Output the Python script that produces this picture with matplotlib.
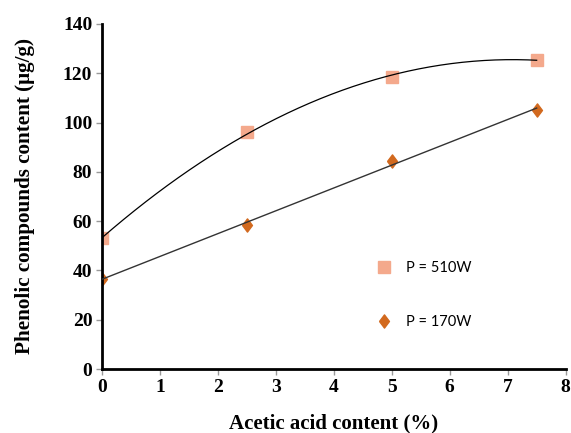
import numpy as np
import matplotlib.pyplot as plt

# Acetic acid content (%)
acid = [0, 2.5, 5, 7.5]
# Phenolic compounds content (ug/g)
p510 = [53, 96, 118.5, 125.5]
p170 = [36.5, 58.5, 84.5, 105]

sq_color = '#F4A98C'
dia_color = '#D2691E'

fig = plt.figure(figsize=(5.71, 4.33), dpi=100)
ax = fig.add_axes([0.1786, 0.1478, 0.812, 0.797])

# Ajustes: polinomio de grado 2 para 510W, lineal para 170W
xf = np.linspace(0, 7.5, 200)
c2 = np.polyfit(acid, p510, 2)
c1 = np.polyfit(acid, p170, 1)

# rombo algo mas alto que ancho
rombo = [(-0.75, 0), (0, 1), (0.75, 0), (0, -1), (-0.75, 0)]

ax.plot(acid, p510, 's', color=sq_color, markersize=8, zorder=2,
        label='P = 510W')
ax.plot(acid, p170, marker=rombo, ls='none', color=dia_color, markersize=9.5,
        zorder=2, label='P = 170W')
ax.plot(xf, np.polyval(c2, xf), color='black', lw=0.9, zorder=3)
ax.plot(xf, np.polyval(c1, xf), color='#333333', lw=1.0, zorder=3)

ax.set_xlim(0, 8)
ax.set_ylim(0, 140)
ax.set_xticks(range(0, 9))
ax.set_yticks(range(0, 141, 20))

for s in ['top', 'right']:
    ax.spines[s].set_visible(False)
for s in ['left', 'bottom']:
    ax.spines[s].set_linewidth(2)
    ax.spines[s].set_color('black')

font = {'family': 'Liberation Serif', 'weight': 'bold'}
ax.tick_params(axis='both', direction='out', length=4, width=1, color='#999999',
               labelsize=14, pad=3)
for lab in ax.get_xticklabels() + ax.get_yticklabels():
    lab.set_fontfamily('Liberation Serif')
    lab.set_fontweight('bold')

ax.set_xlabel('Acetic acid content (%)', fontsize=15, labelpad=13, **font)
ax.set_ylabel('Phenolic compounds content (μg/g)', fontsize=15.2, labelpad=20, **font)

leg = ax.legend(loc='upper left', bbox_to_anchor=(0.565, 0.35), frameon=False,
                prop={'family': 'Lato', 'size': 10.5}, labelspacing=2.75,
                handletextpad=1.0, handlelength=1.0)

fig.savefig('out.png', dpi=100)
